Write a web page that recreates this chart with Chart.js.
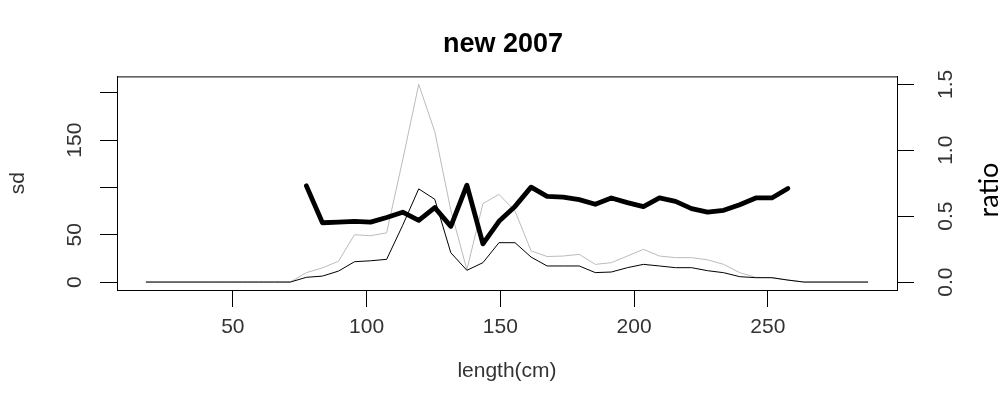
<!DOCTYPE html>
<html lang="en">
<head>
<meta charset="UTF-8">
<title>new 2007</title>
<script src="https://cdn.jsdelivr.net/npm/chart.js@4/dist/chart.umd.min.js"></script>
<style>
  body { margin: 0; background: #fff; }
  #chart { display: block; }
</style>
</head>
<body>
<canvas id="chart" width="1006" height="416"></canvas>
<script>
// length classes (cm)
const lengths = [17.5, 23.5, 29.5, 35.5, 41.5, 47.5, 53.5, 59.5, 65.5, 71.5,
                 77.5, 83.5, 89.5, 95.5, 101.5, 107.5, 113.5, 119.5, 125.5, 131.5,
                 137.5, 143.5, 149.5, 155.5, 161.5, 167.5, 173.5, 179.5, 185.5, 191.5,
                 197.5, 203.5, 209.5, 215.5, 221.5, 227.5, 233.5, 239.5, 245.5, 251.5,
                 257.5, 263.5, 269.5, 275.5, 281.5, 287.5];

// sd, black thin line (left axis)
const sdBlack = [0, 0, 0, 0, 0, 0, 0, 0, 0, 0,
                 5, 6.3, 11.6, 21.5, 22.5, 24, 60, 98.5, 87.5, 31,
                 12.4, 20.5, 41.6, 41.6, 26.4, 17, 17, 17, 10, 10.6,
                 15.2, 18.7, 17, 15.2, 15.2, 12, 9.9, 5.7, 4.6, 4.6,
                 2.1, 0, 0, 0, 0, 0];

// sd, grey thin line (left axis)
const sdGray = [0, 0, 0, 0, 0, 0, 0, 0, 0, 0,
                10, 15, 22, 50, 49, 52, 129, 209, 159, 76,
                13, 83, 92.7, 75, 33, 27, 27.5, 29.3, 18.7, 20.5,
                27.5, 34.6, 27.5, 25.8, 25.8, 23.5, 18.7, 9.9, 5, 4.6,
                2.1, 0, 0, 0, 0, 0];

// ratio, thick line (right axis)
const ratio = [null, null, null, null, null, null, null, null, null, null,
               0.73, 0.45, 0.455, 0.46, 0.455, 0.49, 0.53, 0.468, 0.565, 0.423,
               0.735, 0.29, 0.461, 0.574, 0.72, 0.65, 0.645, 0.625, 0.59, 0.638,
               0.603, 0.572, 0.638, 0.612, 0.557, 0.53, 0.544, 0.587, 0.638, 0.638,
               0.71, null, null, null, null, null];

const xTicks = [50, 100, 150, 200, 250];
const sdTicks = [0, 50, 100, 150, 200];
const sdTickLabels = ['0', '50', '', '150', ''];
const ratioTicks = [0, 0.5, 1, 1.5];
const ratioTickLabels = ['0.0', '0.5', '1.0', '1.5'];

const toPoints = arr => lengths.map((x, i) => ({x: x, y: arr[i]})).filter(p => p.y !== null);

const FONT = "'Liberation Sans', Arial, sans-serif";
const TXT = '#333';

// plot box + the "ratio" label on the right
const boxPlugin = {
    id: 'box',
    afterDraw(chart) {
        const {ctx, chartArea: a} = chart;
        ctx.save();
        ctx.strokeStyle = '#000';
        ctx.lineWidth = 1;
        ctx.strokeRect(a.left + 0.5, a.top + 0.5, a.right - a.left, a.bottom - a.top);
        ctx.translate(989, 190);
        ctx.rotate(-Math.PI / 2);
        ctx.font = "27px Lato, 'Open Sans', sans-serif";
        ctx.fillStyle = '#000';
        ctx.textAlign = 'center';
        ctx.textBaseline = 'middle';
        ctx.fillText('ratio', 0, 0);
        ctx.restore();
    }
};

const axisCommon = {
    grid: { drawOnChartArea: false, drawTicks: true, tickLength: 17, color: '#000', tickColor: '#000' },
    border: { display: true, color: '#000', width: 1 }
};

new Chart(document.getElementById('chart').getContext('2d'), {
    type: 'line',
    data: {
        datasets: [
            {
                label: 'ratio',
                data: toPoints(ratio),
                yAxisID: 'y1',
                borderColor: '#000',
                borderWidth: 4.8,
                borderJoinStyle: 'round',
                borderCapStyle: 'round',
                pointRadius: 0,
                tension: 0
            },
            {
                label: 'sd',
                data: toPoints(sdBlack),
                yAxisID: 'y',
                borderColor: '#000',
                borderWidth: 1,
                pointRadius: 0,
                tension: 0
            },
            {
                label: 'sd grey',
                data: toPoints(sdGray),
                yAxisID: 'y',
                borderColor: '#bbbbbb',
                borderWidth: 1,
                pointRadius: 0,
                tension: 0
            }
        ]
    },
    options: {
        responsive: false,
        animation: false,
        layout: { padding: 0 },
        plugins: {
            legend: { display: false },
            tooltip: { enabled: false },
            title: {
                display: true,
                text: 'new 2007',
                color: '#000',
                font: { family: FONT, size: 27, weight: 'bold' },
                padding: { top: 28, bottom: 16 }
            }
        },
        scales: {
            x: {
                type: 'linear',
                position: 'bottom',
                min: 6.7,
                max: 298.3,
                afterBuildTicks: s => { s.ticks = xTicks.map(v => ({value: v})); },
                afterFit: s => { s.height = 126; },
                ticks: { autoSkip: false, maxRotation: 0, padding: 8, color: TXT,
                         font: { family: FONT, size: 21 } },
                title: { display: true, text: 'length(cm)', color: TXT,
                         font: { family: FONT, size: 21 }, padding: { top: 0, bottom: 32 } },
                ...axisCommon
            },
            y: {
                type: 'linear',
                position: 'left',
                min: -8.4,
                max: 217.4,
                afterBuildTicks: s => { s.ticks = sdTicks.map(v => ({value: v})); },
                afterFit: s => { s.width = 117; },
                ticks: { autoSkip: false, minRotation: 90, maxRotation: 90, crossAlign: 'center',
                         padding: 7.5, color: TXT, font: { family: FONT, size: 21 },
                         callback: (v, i) => sdTickLabels[i] },
                title: { display: true, text: 'sd', color: TXT,
                         font: { family: FONT, size: 21 }, padding: { top: 6, bottom: 0 } },
                ...axisCommon
            },
            y1: {
                type: 'linear',
                position: 'right',
                min: -0.06,
                max: 1.56,
                afterBuildTicks: s => { s.ticks = ratioTicks.map(v => ({value: v})); },
                afterFit: s => { s.width = 109; },
                ticks: { autoSkip: false, minRotation: 90, maxRotation: 90, crossAlign: 'center',
                         padding: 18, color: TXT, font: { family: FONT, size: 21 },
                         callback: (v, i) => ratioTickLabels[i] },
                ...axisCommon
            }
        }
    },
    plugins: [boxPlugin]
});
</script>
</body>
</html>
